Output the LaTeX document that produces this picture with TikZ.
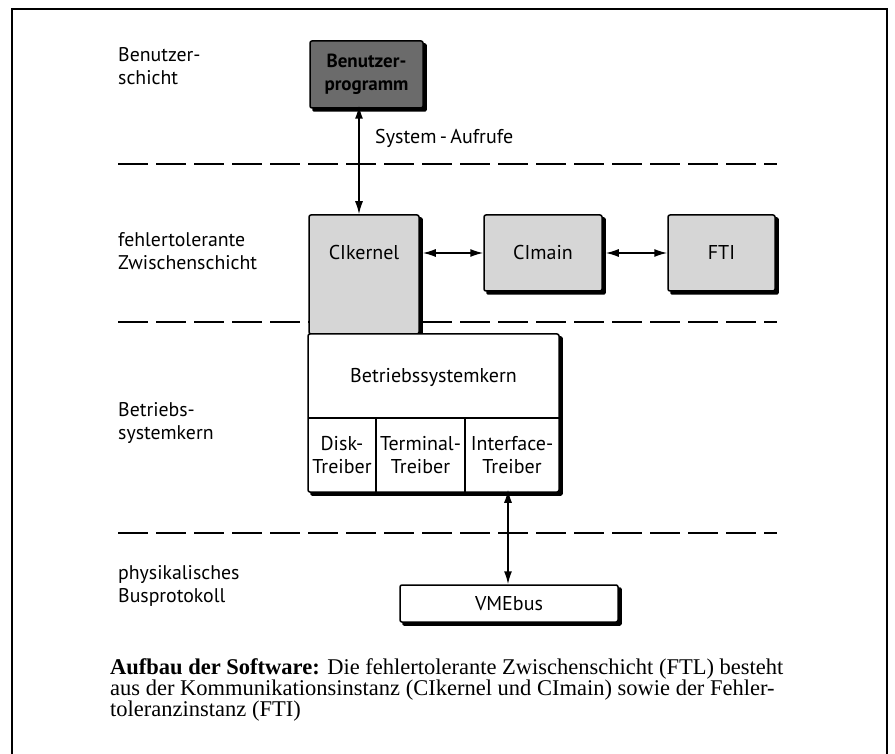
\documentclass[tikz,border=0pt]{standalone}
\usepackage{fontspec}
\setmainfont{Liberation Serif}
\newfontfamily\dinfont{PT Sans}
\usetikzlibrary{arrows.meta,backgrounds}
\begin{document}
\begin{tikzpicture}[x=1pt,y=-1pt,
  lbl/.style={font=\dinfont\fontsize{19.8}{23}\selectfont, align=left, anchor=west, inner sep=0pt},
  btxt/.style={font=\dinfont\fontsize{20}{23}\selectfont, align=center, inner sep=0pt},
  box/.style={draw, line width=1.5pt, rounded corners=2pt, inner sep=0pt},
  light/.style={box, fill=black!16},
  dark/.style={box, fill=black!58},
  white/.style={box, fill=white},
  shadowfill/.style={fill=black, rounded corners=2pt},
  layer/.style={line width=2pt, dash pattern=on 30pt off 8pt},
  dbl/.style={line width=1.5pt, {Latex[length=13pt,width=8pt]}-{Latex[length=13pt,width=8pt]}},
  cell/.style={line width=1.5pt}
]
\useasboundingbox (0,0) rectangle (895,754);
% frame
\draw[line width=2.5pt] (12,760) -- (12,9) -- (887,9) -- (887,760);

% layer separators
\draw[layer] (118,164) -- (777,164);
\draw[layer] (118,322) -- (777,322);
\draw[layer] (118,533) -- (777,533);

% layer labels
\node[lbl] (l1) at (118,66) {Benutzer-\\schicht};
\node[lbl] (l2) at (118,251) {fehlertolerante\\Zwischenschicht};
\node[lbl] (l3) at (118,423) {Betriebs-\\systemkern};
\node[lbl] (l4) at (118,586) {physikalisches\\Busprotokoll};

% boxes
\node[dark, minimum width=113pt, minimum height=67pt] (bp) at (366.5,74.5) {};
\node[btxt, font=\dinfont\bfseries\fontsize{19}{23}\selectfont] (bpt) at (bp.center) {Benutzer-\\programm};

\node[light, minimum width=110pt, minimum height=119pt] (ck) at (364,274.5) {};
\node[btxt] (ckt) at (364,253) {CIkernel};

\node[light, minimum width=118pt, minimum height=76pt, font=\dinfont\fontsize{20}{23}\selectfont] (cm) at (543,253) {CImain};
\node[light, minimum width=107pt, minimum height=76pt, font=\dinfont\fontsize{20}{23}\selectfont] (fti) at (721.5,253) {FTI};

\node[white, minimum width=251pt, minimum height=158pt] (bs) at (433.5,413) {};
\node[btxt] (bst) at (433.5,377) {Betriebssystemkern};
\draw[cell] (308,418) -- (559,418);
\draw[cell] (376,418) -- (376,492);
\draw[cell] (465,418) -- (465,492);
\node[btxt] (d1) at (342,455) {Disk-\\Treiber};
\node[btxt] (d2) at (420.5,455) {Terminal-\\Treiber};
\node[btxt] (d3) at (512,455) {Interface-\\Treiber};

\node[white, minimum width=218pt, minimum height=37pt] (vme) at (509,603.5) {};
\node[btxt] (vmet) at (vme.center) {VMEbus};

% shadows
\begin{scope}[on background layer]
  \foreach \b in {bp,ck,cm,fti,bs,vme}
    \fill[shadowfill] ([shift={(3,3)}]\b.north west) rectangle ([shift={(3,3)}]\b.south east);
\end{scope}

% connectors
\coordinate (sa) at (359,0);
\coordinate (va) at (508,0);
\draw[dbl] ([yshift=3pt]bp.south -| sa) -- (ck.north -| sa);
\node[btxt, anchor=west] (sys) at (375,138) {System\,-\,Aufrufe};
\draw[dbl] ([xshift=3pt]ck.east |- cm.west) -- (cm.west);
\draw[dbl] ([xshift=3pt]cm.east) -- (fti.west);
\draw[dbl] ([yshift=3pt]bs.south -| va) -- (vme.north -| va);

% caption
\node[anchor=north west, align=left, inner sep=0pt, font=\fontsize{22.5}{20}\selectfont] (cap) at (110,658)
 {\textbf{Aufbau der Software:} Die fehlertolerante Zwischenschicht (FTL) besteht\\
  aus der Kommunikationsinstanz (CIkernel und CImain) sowie der Fehler-\\
  toleranzinstanz (FTI)};
\end{tikzpicture}
\end{document}
